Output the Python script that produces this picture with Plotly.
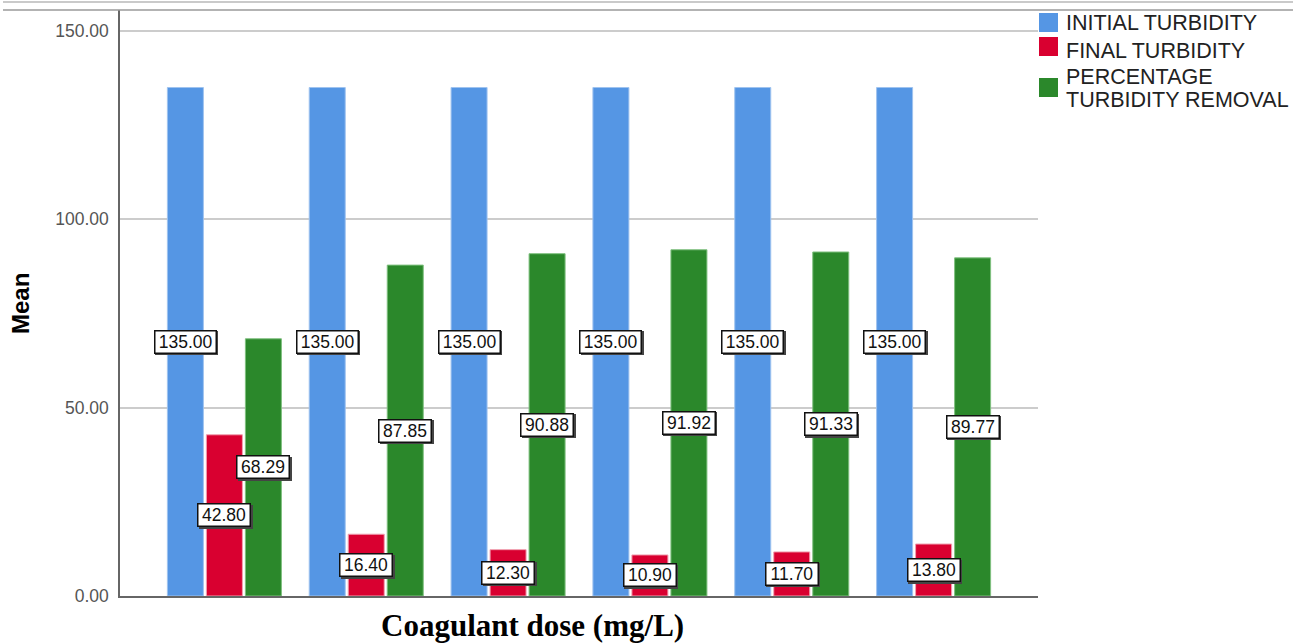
import plotly.graph_objects as go

# Mean turbidity results for six coagulant doses
doses = ["D1", "D2", "D3", "D4", "D5", "D6"]
initial_turbidity = [135.00, 135.00, 135.00, 135.00, 135.00, 135.00]
final_turbidity = [42.80, 16.40, 12.30, 10.90, 11.70, 13.80]
percentage_removal = [68.29, 87.85, 90.88, 91.92, 91.33, 89.77]

series_names = ["INITIAL TURBIDITY", "FINAL TURBIDITY", "PERCENTAGE\nTURBIDITY REMOVAL"]
series_values = [initial_turbidity, final_turbidity, percentage_removal]
series_colors = ["#5596E4", "#D90030", "#2B882B"]
edge_colors = ["#9fc3ef", "#f0a0b0", "#7fc07f"]

y_ticks = [0, 50, 100, 150]

W, H = 1308, 644
L, R, T, B = 120, 270, 10, 48
plot_w = W - L - R
plot_h = H - T - B

BARGAP = 0.175
BARGROUPGAP = 0.077

x_pos = list(range(len(doses)))

fig = go.Figure()
for name, vals, col, edge in zip(series_names, series_values, series_colors, edge_colors):
    fig.add_trace(go.Bar(
        x=x_pos, y=vals, name=name.replace("\n", " "),
        marker=dict(color=col, line=dict(color=edge, width=1)),
        showlegend=False,
    ))


def px_x(px):
    return (px - L) / plot_w


def px_y(py):
    return (H - B - py) / plot_h


annotations = []
shapes = []

# value labels at the middle of each bar, boxed
slot = (1 - BARGAP) / len(series_values)
for k, vals in enumerate(series_values):
    offset = (k - (len(series_values) - 1) / 2) * slot
    for i, v in enumerate(vals):
        txt = f"{v:.2f}"
        common = dict(x=i + offset, y=v / 2, xref="x", yref="y", showarrow=False,
                      text=txt, width=9.4 * len(txt) + 2, height=19,
                      font=dict(family="Liberation Sans, Arial", size=17.5),
                      borderpad=1, borderwidth=1.5)
        # soft drop shadow behind each box
        annotations.append(dict(common, xshift=1.5, yshift=-1.5, bgcolor="#444",
                                bordercolor="#444", font=dict(common["font"], color="rgba(0,0,0,0)")))
        annotations.append(dict(common, bgcolor="white", bordercolor="#111",
                                font=dict(common["font"], color="#111")))

# legend drawn as swatches and text
legend_rows = [
    (13, 32, [(23, "INITIAL TURBIDITY")]),
    (37, 56, [(51, "FINAL TURBIDITY")]),
    (78, 97, [(77, "PERCENTAGE"), (100, "TURBIDITY REMOVAL")]),
]
for (y0, y1, lines), col in zip(legend_rows, series_colors):
    shapes.append(dict(type="rect", xref="paper", yref="paper",
                       x0=px_x(1039), x1=px_x(1058), y0=px_y(y1), y1=px_y(y0),
                       fillcolor=col, line=dict(width=0), layer="above"))
    for yc, txt in lines:
        annotations.append(dict(x=px_x(1064), y=px_y(yc), xref="paper", yref="paper",
                                xanchor="left", yanchor="middle", showarrow=False,
                                text=txt, font=dict(family="Liberation Sans, Arial", size=21.5, color="#222")))

# double rule along the top
for py, col in [(2, "#b8b8b8"), (10, "#9a9a9a")]:
    shapes.append(dict(type="line", xref="paper", yref="paper",
                       x0=px_x(3), x1=px_x(1293), y0=px_y(py), y1=px_y(py),
                       line=dict(color=col, width=1.5)))

# axis titles
annotations.append(dict(x=px_x(532), y=px_y(625), xref="paper", yref="paper",
                        showarrow=False, xanchor="center", yanchor="middle",
                        text="<b>Coagulant dose (mg/L)</b>",
                        font=dict(family="Liberation Serif, Times New Roman", size=31, color="black")))
annotations.append(dict(x=px_x(20), y=px_y(304), xref="paper", yref="paper",
                        showarrow=False, xanchor="center", yanchor="middle", textangle=-90,
                        text="<b>Mean</b>",
                        font=dict(family="Liberation Sans, Arial", size=24, color="black")))

y_top = 150 + (31 - T) / ((596 - 31) / 150)

fig.update_layout(
    width=W, height=H,
    margin=dict(l=L, r=R, t=T, b=B, autoexpand=False),
    paper_bgcolor="white", plot_bgcolor="white",
    barmode="group", bargap=BARGAP, bargroupgap=BARGROUPGAP,
    showlegend=False,
    annotations=annotations,
    shapes=shapes,
    xaxis=dict(range=[-0.736, len(doses) - 1 + 0.736], showticklabels=False, ticks="",
               showgrid=False, zeroline=False, showline=True, linecolor="#666", linewidth=1.5),
    yaxis=dict(range=[0, y_top], tickvals=y_ticks, tickformat=".2f", ticks="",
               tickfont=dict(family="Liberation Sans, Arial", size=17.5, color="#555"),
               ticklabelstandoff=6,
               showgrid=True, gridcolor="#cccccc", gridwidth=1.5, zeroline=False,
               showline=True, linecolor="#666", linewidth=1.5),
)

fig.write_html("out.html")
